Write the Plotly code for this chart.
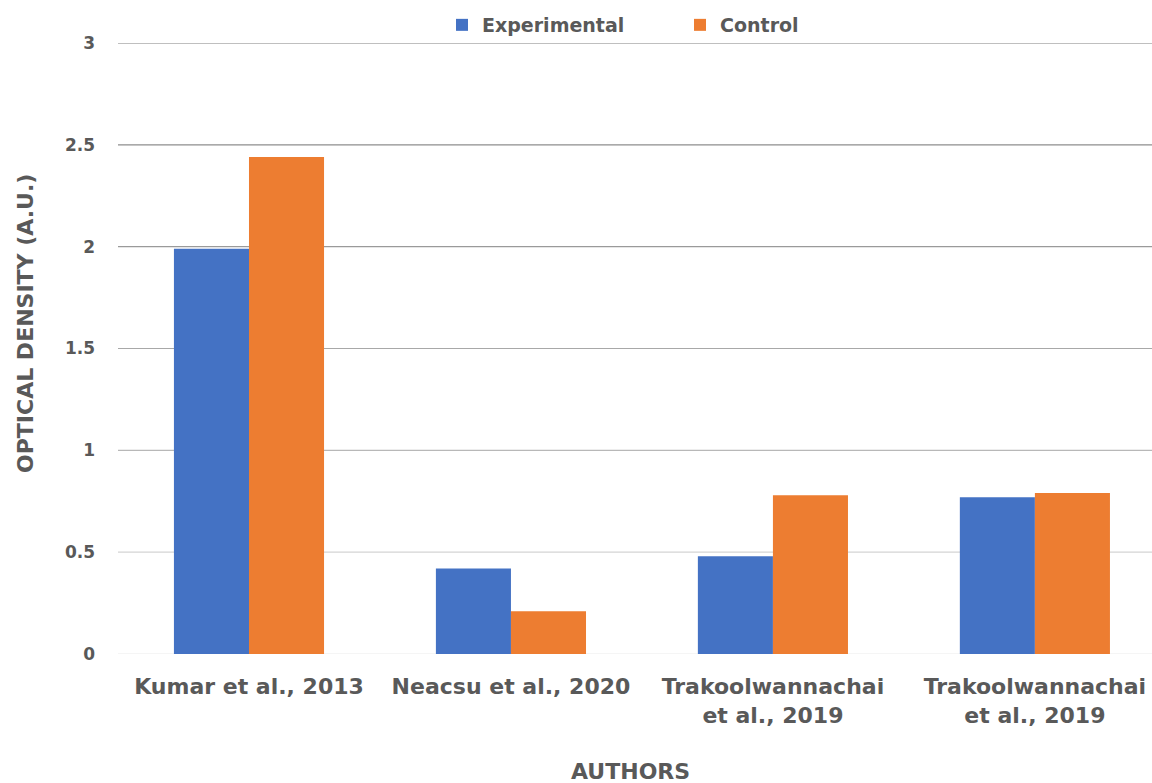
import plotly.graph_objects as go

authors = ["Kumar et al., 2013", "Neacsu et al., 2020",
           "Trakoolwannachai<br>et al., 2019", "Trakoolwannachai<br>et al., 2019"]
experimental = [1.99, 0.42, 0.48, 0.77]
control = [2.44, 0.21, 0.78, 0.79]
y_ticks = [0, 0.5, 1, 1.5, 2, 2.5, 3]
grid_colors = ["#ececec", "#d4d4d4", "#b8b8b8", "#a8a8a8", "#9a9a9a", "#8e8e8e", "#808080"]

positions = list(range(len(authors)))
font_family = "DejaVu Sans, Verdana, sans-serif"
text_gray = "#595959"

fig = go.Figure()
fig.add_trace(go.Bar(name="<b>Experimental</b>", x=positions, y=experimental,
                     marker=dict(color="#4472C4", line=dict(width=0))))
fig.add_trace(go.Bar(name="<b>Control</b>", x=positions, y=control,
                     marker=dict(color="#ED7D31", line=dict(width=0))))

# horizontal gridlines, fading from dark at the top to light at the baseline
for val, col in zip(y_ticks, grid_colors):
    fig.add_shape(type="line", xref="paper", x0=0, x1=1, yref="y", y0=val, y1=val,
                  line=dict(color=col, width=1.2), layer="below")

fig.update_layout(
    width=1152, height=783,
    margin=dict(l=118, r=0, t=43, b=129, autoexpand=False),
    paper_bgcolor="white", plot_bgcolor="white",
    barmode="group", bargap=0.427, bargroupgap=0,
    font=dict(family=font_family, color=text_gray),
    showlegend=True,
    legend=dict(orientation="h", xref="container", yref="container",
                x=0.3837, xanchor="left", y=1 - 25 / 783, yanchor="middle",
                font=dict(size=19, color=text_gray),
                itemwidth=30, entrywidth=193, bgcolor="rgba(0,0,0,0)"),
    xaxis=dict(
        tickvals=positions, ticktext=[f"<b>{a}</b>" for a in authors],
        range=[-0.5, 3.447],
        tickfont=dict(size=22, color=text_gray),
        ticklabelstandoff=17, showgrid=False, zeroline=False, showline=False,
    ),
    yaxis=dict(
        range=[0, 3], tickvals=y_ticks, ticktext=[f"<b>{t:g}</b>" for t in y_ticks],
        tickfont=dict(size=17, color=text_gray),
        ticklabelstandoff=22,
        showgrid=False, zeroline=False, showline=False,
    ),
    annotations=[
        dict(text="<b>AUTHORS</b>", xref="paper", yref="paper",
             x=(630 - 118) / 1034, y=-(771 - 654) / 611, xanchor="center", yanchor="middle",
             showarrow=False, font=dict(size=22, color=text_gray)),
        dict(text="<b>OPTICAL DENSITY (A.U.)</b>", xref="paper", yref="paper",
             x=-(118 - 26) / 1034, y=(654 - 324) / 611, xanchor="center", yanchor="middle",
             textangle=-90, showarrow=False, font=dict(size=22, color=text_gray)),
    ],
)

fig.write_html("out.html")
